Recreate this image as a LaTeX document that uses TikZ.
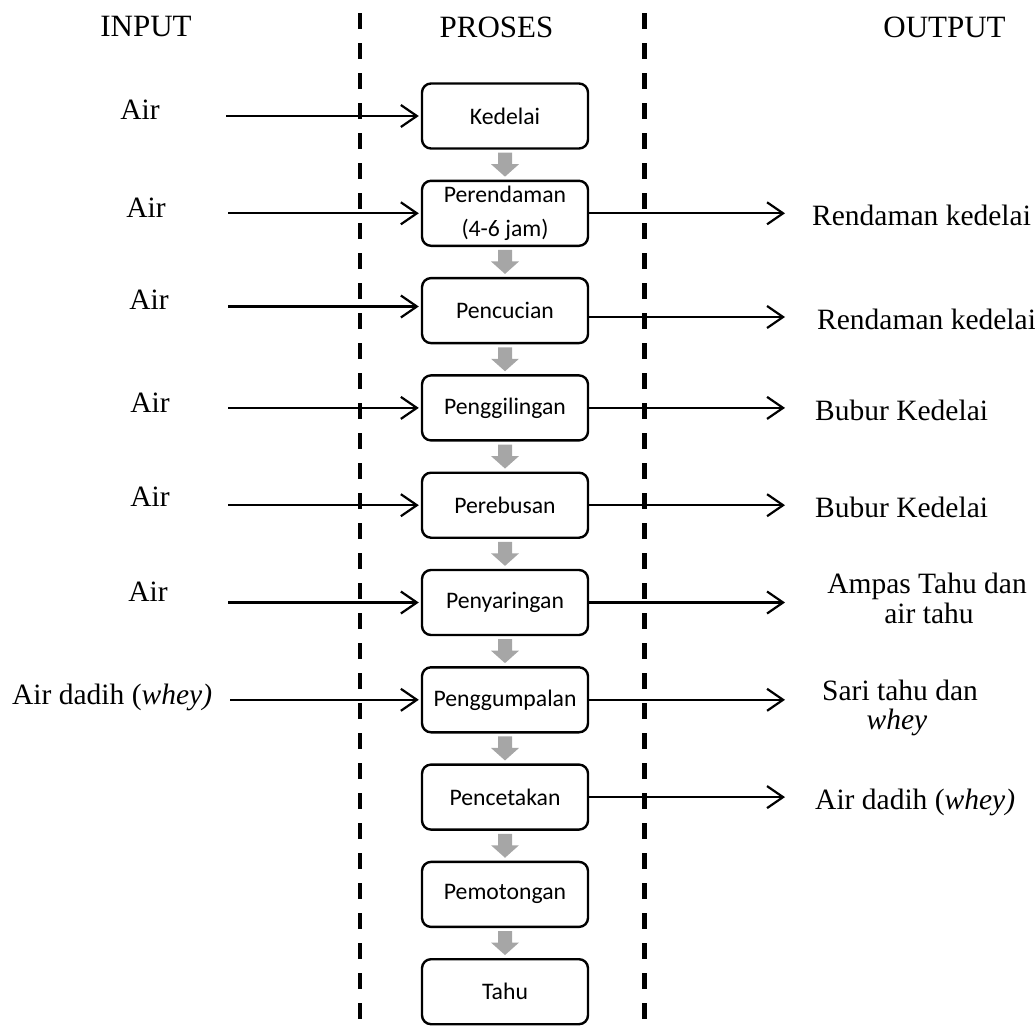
\documentclass[tikz,border=0pt]{standalone}
\usepackage{fontspec}
\setmainfont{Liberation Serif}
\newfontfamily\calibrifont{Carlito}
\usetikzlibrary{arrows.meta,calc}
\definecolor{arrowgray}{HTML}{A6A6A6}
\begin{document}
\begin{tikzpicture}[x=1pt,y=-1pt,
  proc/.style={draw, line width=2.4pt, rounded corners=9pt, minimum width=166pt,
    minimum height=65pt, inner sep=0pt, align=center,
    font=\calibrifont\fontsize{23.7}{34}\selectfont},
  lbl/.style={font=\fontsize{29.5}{32}\selectfont, inner sep=0pt},
  hdr/.style={font=\fontsize{31}{36}\selectfont, inner sep=0pt, anchor=base},
  flow/.style={line width=2.2pt, -{Straight Barb[length=16pt,width=22pt]}},
  sepline/.style={line width=4.5pt, dash pattern=on 16pt off 14pt},
  graytip/.style={fill=arrowgray}
]
\useasboundingbox (0,0) rectangle (1035,1028);

% separators
\coordinate (l1) at (360,13);
\coordinate (l2) at (360,1022);
\coordinate (r1) at (644.5,13);
\coordinate (r2) at (644.5,1022);
\draw[sepline] (l1) -- (l2);
\draw[sepline] (r1) -- (r2);

% headers
\node[hdr] (hin) at (146,36) {INPUT};
\node[hdr] (hpr) at (496.5,37) {PROSES};
\node[hdr] (hout) at (944.5,37) {OUTPUT};

% process boxes
\node[proc] (b0) at (505,116) {Kedelai};
\node[proc] (b1) at (505,213.3) {Perendaman\\(4-6 jam)};
\node[proc] (b2) at (505,310.6) {Pencucian};
\node[proc] (b3) at (505,407.9) {Penggilingan};
\node[proc] (b4) at (505,505.2) {Perebusan};
\node[proc] (b5) at (505,602.5) {Penyaringan};
\node[proc] (b6) at (505,699.8) {Penggumpalan};
\node[proc] (b7) at (505,797.1) {Pencetakan};
\node[proc] (b8) at (505,894.4) {Pemotongan};
\node[proc] (b9) at (505,991.7) {Tahu};

% gray block arrows between boxes
\foreach \a/\b in {b0/b1,b1/b2,b2/b3,b3/b4,b4/b5,b5/b6,b6/b7,b7/b8,b8/b9}{
  \path (\a.south) -- (\b.north) coordinate[midway] (m\a);
  \fill[graytip, shift={(m\a)}] (-7,-12) -- (7,-12) -- (7,-0.5) -- (14,-0.5)
     -- (0,12) -- (-14,-0.5) -- (-7,-0.5) -- cycle;
}

% input labels
\node[lbl, anchor=base] (i1) at (140,119) {Air};
\node[lbl, anchor=base] (i2) at (146,217) {Air};
\node[lbl, anchor=base] (i3) at (149,309) {Air};
\node[lbl, anchor=base] (i4) at (150,412) {Air};
\node[lbl, anchor=base] (i5) at (150,506) {Air};
\node[lbl, anchor=base] (i6) at (148,601) {Air};
\node[lbl, anchor=base west] (i7) at (12,704) {Air dadih (\textit{whey)}};

% input arrows
\coordinate (s1) at (226,116);
\coordinate (s2) at (228,213.3);
\coordinate (s3) at (228,306.5);
\coordinate (s4) at (228,407.9);
\coordinate (s5) at (228,505.2);
\coordinate (s6) at (228,602.5);
\coordinate (s7) at (230,699.8);
\draw[flow, shorten >=2pt] (s1) -- (b0.west);
\draw[flow, shorten >=2pt] (s2) -- (b1.west);
\draw[flow, shorten >=2pt] (s3) -- (s3 -| b2.west);
\draw[flow, shorten >=2pt] (s4) -- (b3.west);
\draw[flow, shorten >=2pt] (s5) -- (b4.west);
\draw[flow, shorten >=2pt] (s6) -- (b5.west);
\draw[flow, shorten >=2pt] (s7) -- (b6.west);

% output arrows
\coordinate (e2) at (785,213.3);
\coordinate (e3) at (785,317);
\coordinate (e4) at (785,407.9);
\coordinate (e5) at (785,505.2);
\coordinate (e6) at (785,602.5);
\coordinate (e7) at (785,699.8);
\coordinate (e8) at (785,797.1);
\draw[flow] (b1.east) -- (e2);
\draw[flow] (e3 -| b2.east) -- (e3);
\draw[flow] (b3.east) -- (e4);
\draw[flow] (b4.east) -- (e5);
\draw[flow] (b5.east) -- (e6);
\draw[flow] (b6.east) -- (e7);
\draw[flow] (b7.east) -- (e8);

% output labels
\node[lbl, anchor=base west] (o2) at (812,225) {Rendaman kedelai};
\node[lbl, anchor=base west] (o3) at (817,329) {Rendaman kedelai};
\node[lbl, anchor=base west] (o4) at (815,420) {Bubur Kedelai};
\node[lbl, anchor=base west] (o5) at (815,517) {Bubur Kedelai};
\node[lbl, anchor=base] (o6a) at (927,593) {Ampas Tahu dan};
\node[lbl, anchor=base] (o6b) at (929,623) {air tahu};
\node[lbl, anchor=base] (o7a) at (900,700) {Sari tahu dan};
\node[lbl, anchor=base] (o7b) at (897,729) {\textit{whey}};
\node[lbl, anchor=base west] (o8) at (815,809) {Air dadih (\textit{whey)}};
\end{tikzpicture}
\end{document}
